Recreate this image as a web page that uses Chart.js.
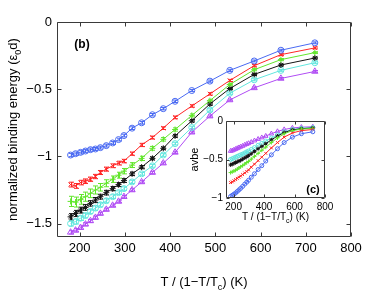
<!DOCTYPE html>
<html>
<head>
<meta charset="utf-8">
<script src="https://cdn.jsdelivr.net/npm/chart.js@4.4.0/dist/chart.umd.min.js"></script>
<style>
  html, body { margin: 0; padding: 0; background: #fff; }
  #wrap { position: relative; width: 388px; height: 292px; }
  #main { position: absolute; left: 0; top: 0; }
  #inset { position: absolute; left: 180px; top: 110px; }
</style>
</head>
<body>
<div id="wrap">
  <canvas id="main" width="388" height="292"></canvas>
  <canvas id="inset" width="160" height="115"></canvas>
</div>
<script>
// DATA
// =============================================================================

// x positions, T / (1 - T/Tc) in K
const temps = [180, 191, 202, 213, 224, 235, 246, 259, 273, 286, 298, 316, 337, 361, 385, 411, 448, 488, 532, 586, 645, 720];

const xTicks = [200, 300, 400, 500, 600, 700, 800];
const yTicks = [-1.5, -1, -0.5, 0];
const insetXTicks = [200, 400, 600, 800];
const insetYTicks = [-1, -0.5, 0];

// panel (b): normalized binding energy
const energyBlue   = [-0.99, -0.98, -0.97, -0.96, -0.95, -0.945, -0.935, -0.92, -0.90, -0.875, -0.845, -0.79, -0.75, -0.69, -0.645, -0.59, -0.51, -0.44, -0.36, -0.29, -0.21, -0.155];
const energyRed    = [-1.21, -1.22, -1.195, -1.185, -1.17, -1.15, -1.12, -1.095, -1.07, -1.05, -1.035, -0.98, -0.915, -0.86, -0.79, -0.71, -0.625, -0.535, -0.435, -0.325, -0.243, -0.193];
const energyGreen  = [-1.335, -1.34, -1.32, -1.30, -1.275, -1.25, -1.23, -1.20, -1.17, -1.14, -1.11, -1.065, -1.015, -0.94, -0.873, -0.80, -0.695, -0.585, -0.465, -0.355, -0.28, -0.228];
const energyBlack  = [-1.45, -1.425, -1.40, -1.38, -1.35, -1.325, -1.30, -1.27, -1.24, -1.21, -1.18, -1.13, -1.08, -1.015, -0.94, -0.848, -0.735, -0.61, -0.495, -0.39, -0.32, -0.268];
const energyCyan   = [-1.50, -1.485, -1.46, -1.44, -1.41, -1.385, -1.36, -1.33, -1.30, -1.27, -1.24, -1.19, -1.13, -1.07, -0.99, -0.905, -0.785, -0.655, -0.53, -0.43, -0.36, -0.303];
const energyPurple = [-1.565, -1.55, -1.53, -1.505, -1.48, -1.455, -1.425, -1.395, -1.365, -1.335, -1.30, -1.25, -1.19, -1.12, -1.05, -0.97, -0.82, -0.70, -0.58, -0.49, -0.42, -0.368];

// error bar half-heights
const errBlue   = [0.012, 0.012, 0.012, 0.012, 0.012, 0.011, 0.011, 0.011, 0.011, 0.01, 0.01, 0.01, 0.01, 0.009, 0.009, 0.009, 0.008, 0.008, 0.008, 0.007, 0.007, 0.007];
const errRed    = [0.018, 0.018, 0.017, 0.017, 0.016, 0.016, 0.015, 0.015, 0.014, 0.014, 0.013, 0.012, 0.012, 0.011, 0.01, 0.01, 0.009, 0.009, 0.008, 0.008, 0.007, 0.007];
const errGreen  = [0.038, 0.037, 0.036, 0.034, 0.032, 0.03, 0.028, 0.026, 0.024, 0.022, 0.02, 0.018, 0.016, 0.014, 0.013, 0.012, 0.011, 0.01, 0.009, 0.008, 0.008, 0.007];
const errBlack  = [0.024, 0.023, 0.022, 0.021, 0.02, 0.019, 0.018, 0.017, 0.016, 0.015, 0.014, 0.013, 0.012, 0.011, 0.01, 0.01, 0.009, 0.009, 0.008, 0.008, 0.007, 0.007];
const errCyan   = [0.018, 0.018, 0.017, 0.017, 0.016, 0.016, 0.015, 0.015, 0.014, 0.013, 0.013, 0.012, 0.011, 0.011, 0.01, 0.01, 0.009, 0.009, 0.008, 0.008, 0.007, 0.007];
const errPurple = [0.012, 0.012, 0.012, 0.011, 0.011, 0.011, 0.01, 0.01, 0.01, 0.01, 0.009, 0.009, 0.009, 0.009, 0.008, 0.008, 0.008, 0.008, 0.007, 0.007, 0.007, 0.007];

// panel (c): avbe
const avbeBlue   = [-0.98, -0.965, -0.95, -0.935, -0.915, -0.895, -0.875, -0.85, -0.82, -0.795, -0.77, -0.73, -0.685, -0.63, -0.58, -0.52, -0.44, -0.36, -0.28, -0.21, -0.165, -0.14];
const avbeRed    = [-0.80, -0.79, -0.775, -0.76, -0.745, -0.73, -0.715, -0.695, -0.675, -0.655, -0.635, -0.60, -0.56, -0.515, -0.47, -0.42, -0.35, -0.28, -0.21, -0.155, -0.125, -0.11];
const avbeGreen  = [-0.67, -0.66, -0.65, -0.64, -0.625, -0.61, -0.595, -0.58, -0.56, -0.54, -0.525, -0.495, -0.46, -0.42, -0.38, -0.34, -0.28, -0.22, -0.165, -0.125, -0.105, -0.095];
const avbeBlack  = [-0.57, -0.56, -0.55, -0.54, -0.53, -0.52, -0.51, -0.495, -0.48, -0.465, -0.45, -0.425, -0.395, -0.36, -0.33, -0.295, -0.245, -0.195, -0.15, -0.115, -0.10, -0.09];
const avbeCyan   = [-0.50, -0.49, -0.48, -0.47, -0.46, -0.45, -0.44, -0.43, -0.415, -0.40, -0.39, -0.37, -0.345, -0.315, -0.29, -0.26, -0.22, -0.18, -0.14, -0.11, -0.095, -0.085];
const avbePurple = [-0.39, -0.385, -0.375, -0.365, -0.355, -0.345, -0.335, -0.325, -0.31, -0.30, -0.29, -0.275, -0.255, -0.235, -0.215, -0.195, -0.165, -0.135, -0.11, -0.09, -0.08, -0.075];

// STYLES
// =============================================================================

const FONT = "'Liberation Sans', Arial, sans-serif";
const AXIS_COLOR = '#3a3a3a';

const series = [
  { color: '#4a6af2', marker: 'circle',    energy: energyBlue,   err: errBlue,   avbe: avbeBlue },
  { color: '#ff2626', marker: 'crossRot',  energy: energyRed,    err: errRed,    avbe: avbeRed },
  { color: '#62e62c', marker: 'cross',     energy: energyGreen,  err: errGreen,  avbe: avbeGreen },
  { color: '#141414', marker: 'star',      energy: energyBlack,  err: errBlack,  avbe: avbeBlack },
  { color: '#62e6de', marker: 'circle',    energy: energyCyan,   err: errCyan,   avbe: avbeCyan },
  { color: '#b04cf4', marker: 'triangle',  energy: energyPurple, err: errPurple, avbe: avbePurple },
];

const minusFmt = v => (v === 0 ? '0' : '\u2212' + Math.abs(v));

// PLUGINS
// =============================================================================

/**
 * Draws a box around the plot area with MATLAB style inward ticks on all sides
 */
const frameTicks = {
  id: 'frameTicks',
  beforeDraw(chart, args, opts) {
    if (!opts.fill) return;
    const { ctx, chartArea: a } = chart;
    ctx.save();
    ctx.fillStyle = opts.fill;
    ctx.fillRect(a.left, a.top, a.right - a.left, a.bottom - a.top);
    ctx.restore();
  },
  afterDraw(chart, args, opts) {
    const { ctx, chartArea: a, scales } = chart;
    const len = opts.len || 4;
    const L = Math.round(a.left) + 0.5, R = Math.round(a.right) - 0.5;
    const T = Math.round(a.top) + 0.5, B = Math.round(a.bottom) - 0.5;
    ctx.save();
    ctx.strokeStyle = AXIS_COLOR;
    ctx.lineWidth = 1;
    ctx.beginPath();
    ctx.rect(L, T, R - L, B - T);
    scales.x.ticks.forEach(t => {
      const px = Math.round(scales.x.getPixelForValue(t.value)) + 0.5;
      ctx.moveTo(px, B); ctx.lineTo(px, B - len);
      ctx.moveTo(px, T); ctx.lineTo(px, T + len);
    });
    scales.y.ticks.forEach(t => {
      const py = Math.round(scales.y.getPixelForValue(t.value)) + 0.5;
      ctx.moveTo(L, py); ctx.lineTo(L + len, py);
      ctx.moveTo(R, py); ctx.lineTo(R - len, py);
    });
    ctx.stroke();
    ctx.restore();
  }
};

/**
 * Vertical error bars with small caps, drawn from each dataset's errors array
 */
const errorBars = {
  id: 'errorBars',
  beforeDatasetsDraw(chart) {
    const { ctx, chartArea: a, scales: { x, y } } = chart;
    ctx.save();
    ctx.beginPath();
    ctx.rect(a.left, a.top, a.right - a.left, a.bottom - a.top);
    ctx.clip();
    chart.data.datasets.forEach(ds => {
      if (!ds.errors) return;
      ctx.strokeStyle = ds.borderColor;
      ctx.lineWidth = 1;
      ctx.beginPath();
      ds.data.forEach((pt, j) => {
        const px = Math.round(x.getPixelForValue(pt.x)) + 0.5;
        const top = y.getPixelForValue(pt.y + ds.errors[j]);
        const bot = y.getPixelForValue(pt.y - ds.errors[j]);
        ctx.moveTo(px, top); ctx.lineTo(px, bot);
        ctx.moveTo(px - 2.5, top); ctx.lineTo(px + 2.5, top);
        ctx.moveTo(px - 2.5, bot); ctx.lineTo(px + 2.5, bot);
      });
      ctx.stroke();
    });
    ctx.restore();
  }
};

/**
 * Draws text made of parts, some of them subscripts, centered on (x, y)
 */
const drawRich = (ctx, parts, x, y, size, bold) => {
  const weight = bold ? 'bold ' : '';
  const subSize = Math.round(size * 0.72);
  const widthOf = p => {
    ctx.font = weight + (p.sub ? subSize : size) + 'px ' + FONT;
    return ctx.measureText(p.t).width;
  };
  const total = parts.reduce((s, p) => s + widthOf(p), 0);
  let cx = x - total / 2;
  parts.forEach(p => {
    const w = widthOf(p);
    ctx.fillText(p.t, cx, p.sub ? y + size * 0.32 : y);
    cx += w;
  });
};

/**
 * Axis titles and panel labels, positioned against the chart area
 */
const captions = {
  id: 'captions',
  afterDraw(chart, args, opts) {
    const { ctx, chartArea: a } = chart;
    ctx.save();
    ctx.fillStyle = '#000';
    ctx.textBaseline = 'alphabetic';
    ctx.textAlign = 'left';
    (opts.items || []).forEach(item => {
      const [x, y] = item.at(a);
      ctx.save();
      ctx.translate(x, y);
      if (item.rotate) ctx.rotate(-Math.PI / 2);
      drawRich(ctx, item.parts, 0, 0, item.size, item.bold);
      ctx.restore();
    });
    ctx.restore();
  }
};

// CHARTS
// =============================================================================

const buildDatasets = (key, radius, withErrors) => series.map(s => ({
  data: temps.map((t, i) => ({ x: t, y: s[key][i] })),
  errors: withErrors ? s.err : null,
  borderColor: s.color,
  backgroundColor: s.color,
  borderWidth: 1,
  pointStyle: s.marker,
  pointRadius: s.marker === 'triangle' ? radius + 0.6 : radius,
  pointBorderWidth: 1,
  pointBackgroundColor: 'rgba(0,0,0,0)',
  pointBorderColor: s.color,
  tension: 0,
}));

const axisScale = (min, max, ticks, size, fontSize, pad, fmt) => ({
  type: 'linear',
  min, max,
  afterBuildTicks: sc => { sc.ticks = ticks.map(v => ({ value: v })); },
  afterFit: sc => { if (sc.isHorizontal()) sc.height = size; else sc.width = size; },
  grid: { display: false, drawTicks: false },
  border: { display: false },
  ticks: {
    color: '#000',
    padding: pad,
    font: { family: FONT, size: fontSize },
    maxRotation: 0,
    autoSkip: false,
    callback: fmt,
  },
});

const baseOptions = () => ({
  responsive: false,
  animation: false,
  devicePixelRatio: 1,
  events: [],
  plugins: { legend: { display: false }, tooltip: { enabled: false } },
});

const mainChart = new Chart(document.getElementById('main'), {
  type: 'line',
  data: { datasets: buildDatasets('energy', 3, true) },
  options: {
    ...baseOptions(),
    layout: { padding: { top: 22, right: 37, left: 0, bottom: 0 } },
    scales: {
      x: axisScale(150, 800, xTicks, 55, 13, 4, v => String(v)),
      y: axisScale(-1.6, 0, yTicks, 57, 13, 5, minusFmt),
    },
    plugins: {
      ...baseOptions().plugins,
      frameTicks: { len: 4 },
      captions: {
        items: [
          { parts: [{ t: 'T / (1\u2212T/T' }, { t: 'c', sub: true }, { t: ') (K)' }],
            size: 13, at: a => [(a.left + a.right) / 2, 286] },
          { parts: [{ t: 'normalized binding energy (\u03b5' }, { t: '0', sub: true }, { t: 'd)' }],
            size: 13, rotate: true, at: a => [17, (a.top + a.bottom) / 2] },
          { parts: [{ t: '(b)' }], size: 12, bold: true, at: a => [a.left + 25, a.top + 26] },
        ]
      }
    }
  },
  plugins: [errorBars, frameTicks, captions],
});

const insetChart = new Chart(document.getElementById('inset'), {
  type: 'line',
  data: { datasets: buildDatasets('avbe', 2, false) },
  options: {
    ...baseOptions(),
    layout: { padding: { top: 11, right: 15, left: 0, bottom: 0 } },
    scales: {
      x: axisScale(150, 800, insetXTicks, 27, 10, 3, v => String(v)),
      y: axisScale(-1, 0, insetYTicks, 46, 10, 3, minusFmt),
    },
    plugins: {
      ...baseOptions().plugins,
      frameTicks: { len: 3, fill: '#fff' },
      captions: {
        items: [
          { parts: [{ t: 'T / (1\u2212T/T' }, { t: 'c', sub: true }, { t: ') (K)' }],
            size: 10, at: a => [(a.left + a.right) / 2, 110] },
          { parts: [{ t: 'avbe' }], size: 11, rotate: true, at: a => [18, (a.top + a.bottom) / 2] },
          { parts: [{ t: '(c)' }], size: 11, bold: true, at: a => [a.right - 12, a.bottom - 5] },
        ]
      }
    }
  },
  plugins: [frameTicks, captions],
});
</script>
</body>
</html>
